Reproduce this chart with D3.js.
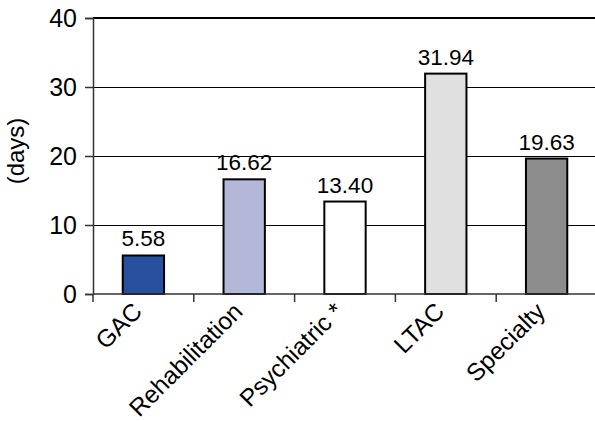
<!DOCTYPE html>
<html>
<head>
<meta charset="utf-8">
<script src="https://cdn.jsdelivr.net/npm/d3@7"></script>
<style>
  html, body { margin: 0; padding: 0; background: #fff; }
  svg { display: block; font-family: "Liberation Sans", Arial, sans-serif; }
</style>
</head>
<body>
<svg id="chart" width="595" height="421"></svg>
<script>
// Average length of stay by hospital type
const categories = ["GAC", "Rehabilitation", "Psychiatric *", "LTAC", "Specialty"];
const values = [5.58, 16.62, 13.40, 31.94, 19.63];
const valueLabels = ["5.58", "16.62", "13.40", "31.94", "19.63"];
const barColors = ["#28509e", "#b3b8d8", "#ffffff", "#e0e0e0", "#8c8c8c"];
const yTicks = [0, 10, 20, 30, 40];

const svg = d3.select("#chart");
const margin = { left: 93, top: 18, right: -2, bottom: 127 };
const width = 595 - margin.left - margin.right;
const height = 421 - margin.top - margin.bottom;

const g = svg.append("g").attr("transform", `translate(${margin.left},${margin.top})`);

const x = d3.scaleBand().domain(categories).range([0, width]).paddingInner(0.59).paddingOuter(0.295);
const xb = d3.scaleBand().domain(categories).range([0, width]);
const y = d3.scaleLinear().domain([0, 40]).range([height, 0]);

// horizontal gridlines; the top one closes the plot frame
g.selectAll("line.grid")
  .data(yTicks.filter(t => t > 0))
  .join("line")
  .attr("class", "grid")
  .attr("x1", 0).attr("x2", width)
  .attr("y1", d => y(d)).attr("y2", d => y(d))
  .attr("stroke", "#000")
  .attr("shape-rendering", "crispEdges")
  .attr("stroke-width", d => d === 40 ? 2 : 1);

// bars
g.selectAll("rect.bar")
  .data(values)
  .join("rect")
  .attr("class", "bar")
  .attr("x", (d, i) => x(categories[i]))
  .attr("y", d => y(d))
  .attr("width", x.bandwidth())
  .attr("height", d => y(0) - y(d))
  .attr("fill", (d, i) => barColors[i])
  .attr("stroke", "#000")
  .attr("stroke-width", 2);

// value labels
g.selectAll("text.val")
  .data(values)
  .join("text")
  .attr("class", "val")
  .attr("x", (d, i) => x(categories[i]) + x.bandwidth() / 2)
  .attr("y", d => y(d) - 9)
  .attr("text-anchor", "middle")
  .attr("font-size", 22.5)
  .attr("fill", "#000")
  .text((d, i) => valueLabels[i]);

// y axis
const yAxis = g.append("g")
  .call(d3.axisLeft(y).tickValues(yTicks).tickSize(8).tickPadding(8).tickFormat(d3.format("d")));
yAxis.select(".domain").attr("stroke", "#333").attr("stroke-width", 1.5);
yAxis.selectAll(".tick line").attr("stroke", "#333").attr("stroke-width", 1.5);
yAxis.selectAll(".tick text").attr("font-size", 25).attr("fill", "#000")
  .attr("font-family", "Liberation Sans, Arial, sans-serif");

// x axis with ticks on category boundaries
const xAxisG = g.append("g").attr("transform", `translate(0,${height})`);
xAxisG.append("line")
  .attr("x1", 0).attr("x2", width)
  .attr("stroke", "#333").attr("stroke-width", 1.5);
xAxisG.selectAll("line.bt")
  .data(categories)
  .join("line")
  .attr("class", "bt")
  .attr("x1", d => xb(d)).attr("x2", d => xb(d))
  .attr("y1", 0).attr("y2", 8)
  .attr("stroke", "#333").attr("stroke-width", 1.5);

// rotated category labels, ending at the band centre
xAxisG.selectAll("text.cat")
  .data(categories)
  .join("text")
  .attr("class", "cat")
  .attr("transform", d => `translate(${xb(d) + xb.bandwidth() / 2},${19}) rotate(-45)`)
  .attr("text-anchor", "end")
  .attr("font-size", 24.5)
  .attr("fill", "#000")
  .text(d => d);

// y axis title
svg.append("text")
  .attr("transform", "translate(24,151) rotate(-90)")
  .attr("text-anchor", "middle")
  .attr("font-size", 24)
  .attr("fill", "#000")
  .text("(days)");
</script>
</body>
</html>
